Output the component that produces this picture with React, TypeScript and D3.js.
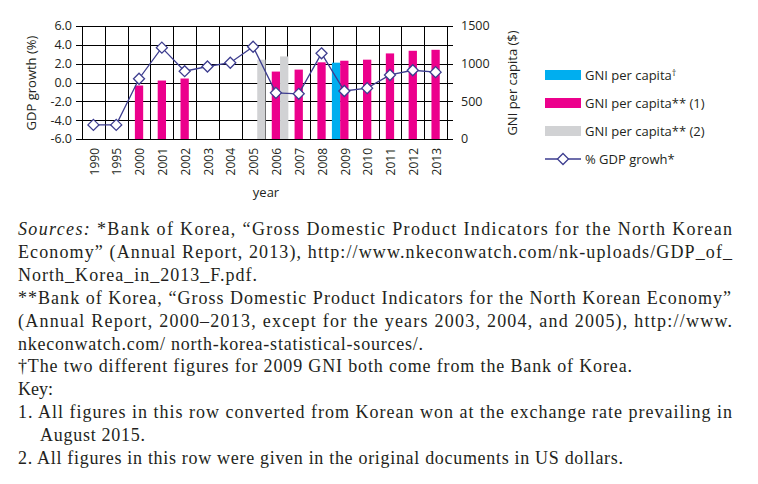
import React from "react";
import * as d3 from "d3";

const years = ["1990", "1995", "2000", "2001", "2002", "2003", "2004", "2005", "2006", "2007", "2008", "2009", "2010", "2011", "2012", "2013"];
const gdpGrowth = [-4.5, -4.5, 0.4, 3.7, 1.2, 1.7, 2.1, 3.8, -1.1, -1.2, 3.1, -0.9, -0.6, 0.8, 1.3, 1.1];
const gniDagger = [null, null, null, null, null, null, null, null, null, null, null, 1013, null, null, null, null];
const gniOne = [null, null, 710, 776, 803, null, null, null, 895, 921, 1018, 1039, 1053, 1136, 1171, 1184];
const gniTwo = [null, null, null, null, null, null, null, 1053, 1096, null, null, null, null, null, null, null];
const leftTicks = [-6, -4, -2, 0, 2, 4, 6];
const rightTicks = [0, 250, 500, 750, 1000, 1250, 1500];

const barSeries = [
  { key: "dagger", label: "GNI per capita", mark: "†", values: gniDagger, color: "#00aeef" },
  { key: "one", label: "GNI per capita** (1)", mark: "", values: gniOne, color: "#ec008c" },
  { key: "two", label: "GNI per capita** (2)", mark: "", values: gniTwo, color: "#d1d2d4" },
];

const notes = [
  "Sources:| *Bank of Korea, “Gross Domestic Product Indicators for the North Korean",
  "Economy” (Annual Report, 2013), http://www.nkeconwatch.com/nk-uploads/GDP_of_",
  "North_Korea_in_2013_F.pdf.",
  "**Bank of Korea, “Gross Domestic Product Indicators for the North Korean Economy”",
  "(Annual Report, 2000–2013, except for the years 2003, 2004, and 2005), http://www.",
  "nkeconwatch.com/ north-korea-statistical-sources/.",
  "†The two different figures for 2009 GNI both come from the Bank of Korea.",
  "Key:",
  "1. All figures in this row converted from Korean won at the exchange rate prevailing in",
  "August 2015.",
  "2. All figures in this row were given in the original documents in US dollars.",
];
// start and end x of each note line (layout only)
const noteSpan = [
  [18, 732], [18, 732], [18, 257], [18, 731], [18, 732], [18, 423],
  [18, 632], [18, 53], [18, 732], [40, 145], [18, 623],
];

const W = 758;
const H = 484;
const margin = { left: 82, right: 447, top: 26, bottom: 139 };
const sans = "'Open Sans', sans-serif";
const ink = "#231f20";
const navy = "#3d3d8f";

const App = () => {
  const x = d3.scaleBand().domain(years).range([margin.left, margin.right]).padding(0);
  const yL = d3.scaleLinear().domain([-6, 6]).range([margin.bottom, margin.top]);
  const yR = d3.scaleLinear().domain([0, 1500]).range([margin.bottom, margin.top]);
  const bw = 8.3;
  const sub = d3.scaleBand().domain(barSeries.map((s) => s.key)).range([-1.5 * bw, 1.5 * bw]).padding(0);

  const cx = (y) => x(y) + x.bandwidth() / 2;
  const line = d3.line().x((d, i) => cx(years[i])).y((d) => yL(d));
  const diamond = (px, py, r) => `M${px},${py - r}L${px + r},${py}L${px},${py + r}L${px - r},${py}Z`;
  const px = (v) => Math.round(v) + 0.5;

  return (
    <svg width={W} height={H} style={{ position: "absolute", left: 0, top: 0 }}>
      <rect width={W} height={H} fill="#fff" />
      {/* grid */}
      <g stroke="#000" strokeWidth={1}>
        {leftTicks.map((t) => (
          <line key={"h" + t} x1={margin.left} x2={margin.right} y1={px(yL(t))} y2={px(yL(t))} />
        ))}
        {years.map((yr) => (
          <line key={"v" + yr} x1={px(x(yr))} x2={px(x(yr))} y1={yL(6)} y2={yL(-6)} />
        ))}
        <line x1={px(margin.right)} x2={px(margin.right)} y1={yL(6)} y2={yL(-6)} />
      </g>
      {/* bars */}
      {barSeries.map((s) => (
        <g key={s.key} fill={s.color}>
          {s.values.map((v, i) =>
            v == null ? null : (
              <rect key={i} x={cx(years[i]) + sub(s.key)} width={sub.bandwidth()} y={yR(v)} height={yR(0) - yR(v)} />
            )
          )}
        </g>
      ))}
      {/* GDP line */}
      <path d={line(gdpGrowth)} fill="none" stroke={navy} strokeWidth={1.3} />
      {gdpGrowth.map((v, i) => (
        <path key={i} d={diamond(cx(years[i]), yL(v), 5.5)} fill="#fff" stroke={navy} strokeWidth={1.3} />
      ))}
      {/* left axis */}
      <g fontFamily={sans} fontSize={12.5} fill={ink}>
        {leftTicks.map((t) => (
          <g key={t}>
            <line x1={76} x2={margin.left} y1={px(yL(t))} y2={px(yL(t))} stroke="#000" />
            <text x={72} y={yL(t)} dy="0.35em" textAnchor="end">{t.toFixed(1)}</text>
          </g>
        ))}
        {rightTicks.map((t) => (
          <g key={t}>
            <line x1={margin.right} x2={453} y1={px(yR(t))} y2={px(yR(t))} stroke="#000" />
            {t % 500 === 0 && (
              <text x={461} y={yR(t)} dy="0.35em">{t}</text>
            )}
          </g>
        ))}
        {years.map((yr) => (
          <text key={yr} transform={`translate(${cx(yr) + 1},148) rotate(-90)`} textAnchor="end" dy="0.35em" fontSize={12}>
            {yr}
          </text>
        ))}
        <text transform="translate(31,83) rotate(-90)" textAnchor="middle" dy="0.35em" fontSize={13}>GDP growth (%)</text>
        <text transform="translate(512,83) rotate(-90)" textAnchor="middle" dy="0.35em" fontSize={13}>GNI per capita ($)</text>
        <text x={266} y={197} textAnchor="middle" fontSize={13}>year</text>
      </g>
      {/* legend */}
      <g fontFamily={sans} fontSize={13} fill={ink}>
        {barSeries.map((s, i) => (
          <g key={s.key} transform={`translate(545,${75 + i * 28})`}>
            <rect x={0} y={-5} width={36} height={10} fill={s.color} />
            <text x={40} dy="0.35em">
              {s.label}
              {s.mark && <tspan fontSize={9} dy="-0.45em">{s.mark}</tspan>}
            </text>
          </g>
        ))}
        <g transform="translate(545,159)">
          <line x1={0} x2={36} stroke={navy} strokeWidth={1.3} />
          <path d={diamond(18, 0, 5.5)} fill="#fff" stroke={navy} strokeWidth={1.3} />
          <text x={40} dy="0.35em">% GDP growh*</text>
        </g>
      </g>
      {/* notes */}
      <g fontFamily="'Liberation Serif', serif" fontSize={18} fill={ink}>
        {notes.map((n, i) => {
          const [a, b] = noteSpan[i];
          const parts = n.split("|");
          return (
            <text key={i} x={a} y={235 + i * 22.9} textLength={b - a} lengthAdjust="spacing">
              {parts.length > 1 ? (
                <>
                  <tspan fontStyle="italic">{parts[0]}</tspan>
                  {parts[1]}
                </>
              ) : (
                n
              )}
            </text>
          );
        })}
      </g>
    </svg>
  );
};

export default App;
